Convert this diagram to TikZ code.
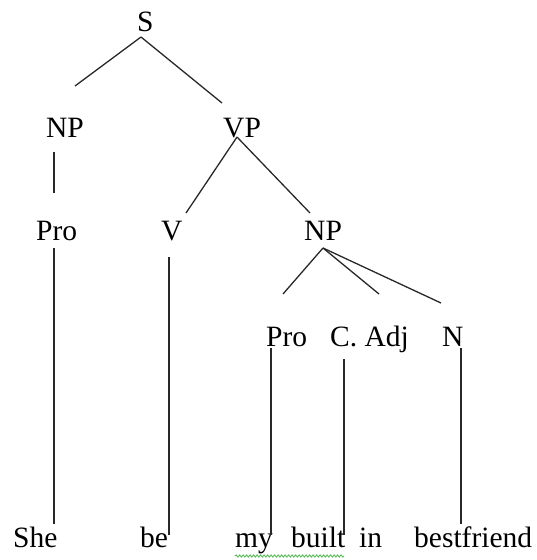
\documentclass[tikz,border=0pt]{standalone}
\usepackage{fontspec}
\setmainfont{Liberation Serif}
\usetikzlibrary{decorations.pathmorphing}
\definecolor{edgecol}{RGB}{40,40,40}
\definecolor{spellgreen}{RGB}{90,190,90}
\begin{document}
\begin{tikzpicture}[x=1pt,y=-1pt,
  lbl/.style={font=\fontsize{29.5}{32}\selectfont, inner sep=0pt, anchor=base west, text=black},
  edge/.style={draw=edgecol, line width=1.3pt}]
\useasboundingbox (0,0) rectangle (536,560);
% labels
\node[lbl] (S) at (137,31) {S};
\node[lbl] (NPa) at (46,137) {NP};
\node[lbl] (VP) at (223,137) {VP};
\node[lbl] (ProA) at (36,240) {Pro};
\node[lbl] (V) at (161,240) {V};
\node[lbl] (NPb) at (304,240) {NP};
\node[lbl] (ProB) at (266,346) {Pro};
\node[lbl] (CAdj) at (330,346) {C. Adj};
\node[lbl] (N) at (442,346) {N};
\node[lbl] (she) at (13,547) {She};
\node[lbl] (be) at (140,547) {be};
\node[lbl] (my) at (235,547) {my};
\node[lbl] (built) at (291,547) {built};
\node[lbl] (in) at (359,547) {in};
\node[lbl] (bf) at (414,547) {bestfriend};
% connector end points
\coordinate (sTop) at (141,37);
\coordinate (npaEnd) at (75,86);
\coordinate (vpEnd) at (222,103);
\coordinate (npaBot) at (54,152);
\coordinate (proaTop) at (54,193);
\coordinate (vpBot) at (237,137);
\coordinate (vTop) at (186,213);
\coordinate (npbTop) at (310,213);
\coordinate (npbBot) at (323,248);
\coordinate (probTop) at (283,294);
\coordinate (cadjTop) at (379,294);
\coordinate (nTop) at (441,303);
\coordinate (proaBot) at (54,248);
\coordinate (sheTop) at (54,524);
\coordinate (vBot) at (169,257);
\coordinate (beTop) at (169,535);
\coordinate (probBot) at (271,348);
\coordinate (myTop) at (271,535);
\coordinate (cadjBot) at (344,359);
\coordinate (builtTop) at (344,535);
\coordinate (nBot) at (461,348);
\coordinate (bfTop) at (461,524);
\coordinate (ulA) at (235,556);
\coordinate (ulB) at (344,556);
% connectors
\draw[edge] (sTop) -- (npaEnd);
\draw[edge] (sTop) -- (vpEnd);
\draw[edge] (npaBot) -- (proaTop);
\draw[edge] (vpBot) -- (vTop);
\draw[edge] (vpBot) -- (npbTop);
\draw[edge] (npbBot) -- (probTop);
\draw[edge] (npbBot) -- (cadjTop);
\draw[edge] (npbBot) -- (nTop);
\draw[edge] (proaBot) -- (sheTop);
\draw[edge] (vBot) -- (beTop);
\draw[edge] (probBot) -- (myTop);
\draw[edge] (cadjBot) -- (builtTop);
\draw[edge] (nBot) -- (bfTop);
% spell-check underline
\draw[spellgreen, line width=0.9pt, decorate, decoration={snake, amplitude=1.1pt, segment length=3.5pt}] (ulA) -- (ulB);
\end{tikzpicture}
\end{document}
